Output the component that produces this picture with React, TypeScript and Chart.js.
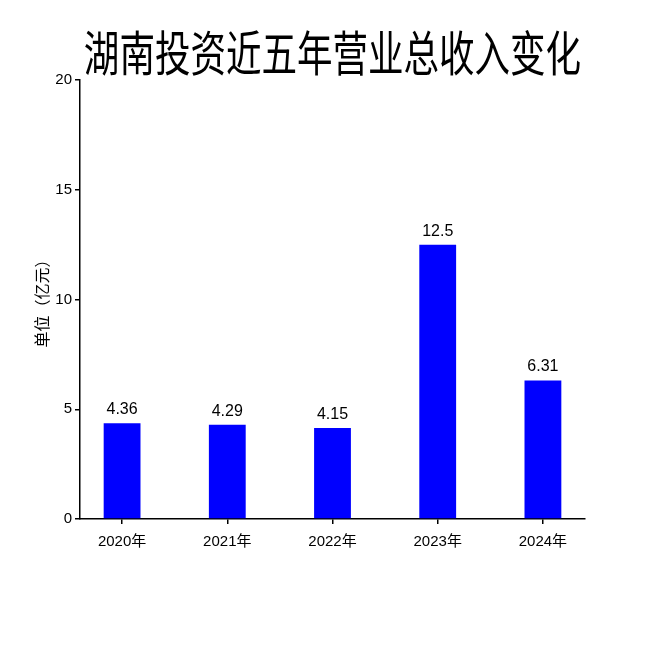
import React, { useEffect, useRef } from "react";
import { Chart, registerables } from "chart.js";

Chart.register(...registerables);

const titleText = "湖南投资近五年营业总收入变化";
const yAxisTitle = "单位（亿元）";
const categories = ["2020年", "2021年", "2022年", "2023年", "2024年"];
const revenues = [4.36, 4.29, 4.15, 12.5, 6.31];
const valueLabels = ["4.36", "4.29", "4.15", "12.5", "6.31"];
const yTicks = [0, 5, 10, 15, 20];

const SANS = '"Liberation Sans", Arial, "Noto Sans CJK SC", sans-serif';

const titlePlugin = {
  id: "condensedTitle",
  afterDraw(chart: any) {
    const { ctx, chartArea } = chart;
    ctx.save();
    const cx = (chartArea.left + chartArea.right) / 2;
    ctx.translate(cx, 53);
    ctx.scale(0.74, 1);
    ctx.font = '48px "Noto Sans CJK SC", sans-serif';
    ctx.fillStyle = "#000";
    ctx.textAlign = "center";
    ctx.textBaseline = "middle";
    ctx.fillText(titleText, 0, 0);
    ctx.restore();
  },
};

const valueLabelPlugin = {
  id: "valueLabels",
  afterDatasetsDraw(chart: any) {
    const { ctx } = chart;
    const meta = chart.getDatasetMeta(0);
    ctx.save();
    ctx.font = "16px " + SANS;
    ctx.fillStyle = "#000";
    ctx.textAlign = "center";
    ctx.textBaseline = "alphabetic";
    meta.data.forEach((bar: any, i: number) => {
      ctx.fillText(valueLabels[i], bar.x, bar.y - 9);
    });
    ctx.restore();
  },
};

export default function App() {
  const ref = useRef<HTMLCanvasElement | null>(null);
  useEffect(() => {
    if (!ref.current) return;
    const chart = new Chart(ref.current, {
      type: "bar",
      data: {
        datasets: [
          {
            data: revenues.map((v, i) => ({ x: i, y: v })),
            backgroundColor: "#0000ff",
            borderWidth: 0,
            categoryPercentage: 1,
            barPercentage: 0.35,
          },
        ],
      },
      options: {
        animation: false,
        responsive: true,
        maintainAspectRatio: false,
        layout: { padding: { top: 80, right: 65, left: 0, bottom: 0 } },
        plugins: {
          legend: { display: false },
          tooltip: { enabled: false },
          title: { display: false },
        },
        scales: {
          x: {
            type: "linear",
            offset: false,
            min: -0.4,
            max: 4.4,
            afterBuildTicks(scale: any) {
              scale.ticks = categories.map((_, i) => ({ value: i }));
            },
            afterFit(scale: any) {
              scale.height = 131;
            },
            ticks: {
              callback: (v: any) => categories[v] ?? "",
              color: "#000",
              font: { size: 15, family: SANS },
              padding: 9,
              maxRotation: 0,
              autoSkip: false,
            },
            grid: {
              display: true,
              offset: false,
              drawOnChartArea: false,
              drawTicks: true,
              tickLength: 5,
              color: "#000",
              lineWidth: 1.5,
            },
            border: { display: true, color: "#000", width: 1.5 },
          },
          y: {
            type: "linear",
            min: 0,
            max: 20,
            afterBuildTicks(scale: any) {
              scale.ticks = yTicks.map((v) => ({ value: v }));
            },
            afterFit(scale: any) {
              scale.width = 80;
            },
            ticks: {
              color: "#000",
              font: { size: 15, family: SANS },
              padding: 3,
            },
            grid: {
              display: true,
              drawOnChartArea: false,
              drawTicks: true,
              tickLength: 5,
              color: "#000",
              lineWidth: 1.5,
            },
            border: { display: true, color: "#000", width: 1.5 },
            title: {
              display: true,
              text: yAxisTitle,
              color: "#000",
              font: { size: 16, family: '"Noto Sans CJK SC", sans-serif' },
              padding: { top: 32, bottom: 0 },
            },
          },
        },
      },
      plugins: [titlePlugin, valueLabelPlugin],
    });
    return () => chart.destroy();
  }, []);
  return (
    <div style={{ position: "fixed", left: 0, top: 0, width: 650, height: 650, background: "#fff" }}>
      <canvas ref={ref} />
    </div>
  );
}
